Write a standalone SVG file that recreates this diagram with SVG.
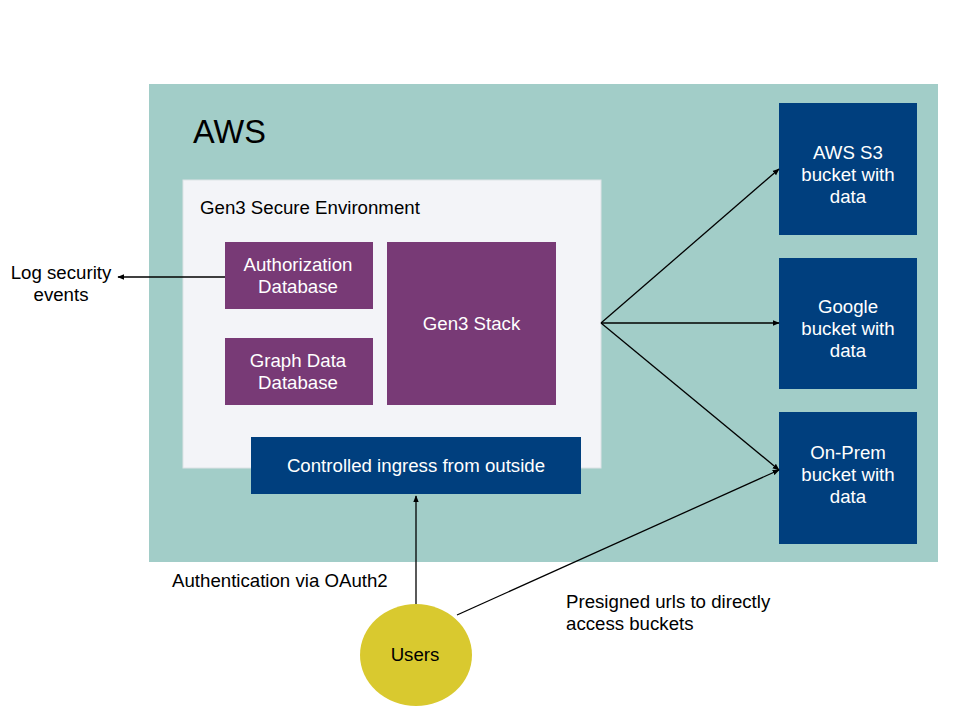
<svg xmlns="http://www.w3.org/2000/svg" width="960" height="720" viewBox="0 0 960 720">
<defs>
<style>
text{font-family:"Liberation Sans",Arial,sans-serif;}
.w{fill:#ffffff;font-size:18.67px;text-anchor:middle;}
.k{fill:#000000;font-size:18.67px;}
.c{stroke:#000;stroke-width:1.3;fill:none;marker-end:url(#ah);}
.purple{fill:#783a76;}
.blue{fill:#003f7e;}
</style>
<marker id="ah" viewBox="0 0 10 10" refX="9" refY="5" markerWidth="7" markerHeight="7" orient="auto" markerUnits="userSpaceOnUse"><path d="M0,1 L10,5 L0,9 z" fill="#000"/></marker>
</defs>
<rect width="960" height="720" fill="#ffffff"/>
<g id="aws">
<rect x="149" y="84" width="789" height="478" fill="#a2cdc8"/>
<text x="193" y="143" style="font-size:32.5px" fill="#000">AWS</text>
</g>
<g id="gen3env">
<rect x="183" y="180" width="418" height="288" fill="#f3f4f8" stroke="#dde3e6" stroke-width="1"/>
<text class="k" x="200" y="214">Gen3 Secure Environment</text>
</g>
<g id="authdb">
<rect class="purple" x="225" y="242" width="148" height="67"/>
<text class="w" x="298" y="271">Authorization</text>
<text class="w" x="298" y="293">Database</text>
</g>
<g id="graphdb">
<rect class="purple" x="225" y="338" width="148" height="67"/>
<text class="w" x="298" y="367">Graph Data</text>
<text class="w" x="298" y="389">Database</text>
</g>
<g id="stack">
<rect class="purple" x="387" y="242" width="169" height="163"/>
<text class="w" x="471.5" y="330">Gen3 Stack</text>
</g>
<g id="ingress">
<rect class="blue" x="251" y="437" width="330" height="57"/>
<text class="w" x="416" y="472">Controlled ingress from outside</text>
</g>
<g id="s3">
<rect class="blue" x="779" y="103" width="138" height="132"/>
<text class="w" x="848" y="159">AWS S3</text>
<text class="w" x="848" y="181">bucket with</text>
<text class="w" x="848" y="203">data</text>
</g>
<g id="google">
<rect class="blue" x="779" y="258" width="138" height="131"/>
<text class="w" x="848" y="313">Google</text>
<text class="w" x="848" y="335">bucket with</text>
<text class="w" x="848" y="357">data</text>
</g>
<g id="onprem">
<rect class="blue" x="779" y="412" width="138" height="132"/>
<text class="w" x="848" y="459">On-Prem</text>
<text class="w" x="848" y="481">bucket with</text>
<text class="w" x="848" y="503">data</text>
</g>
<g id="users">
<ellipse cx="416" cy="655" rx="56" ry="51" fill="#d9c92f"/>
<text x="415" y="661" style="font-size:18.67px;text-anchor:middle" fill="#000">Users</text>
</g>
<g id="labels">
<text class="k" x="61" y="279" text-anchor="middle">Log security</text>
<text class="k" x="61" y="301" text-anchor="middle">events</text>
<text class="k" x="172" y="587">Authentication via OAuth2</text>
<text class="k" x="566" y="608">Presigned urls to directly</text>
<text class="k" x="566" y="630">access buckets</text>
</g>
<g id="connectors">
<path class="c" d="M225,277 L118,277"/>
<path class="c" d="M601,323 L779,169"/>
<path class="c" d="M601,323 L779,323"/>
<path class="c" d="M601,323 L779,470"/>
<path class="c" d="M457,615 L779,470"/>
<path class="c" d="M416,604 L416,496"/>
</g>
</svg>
